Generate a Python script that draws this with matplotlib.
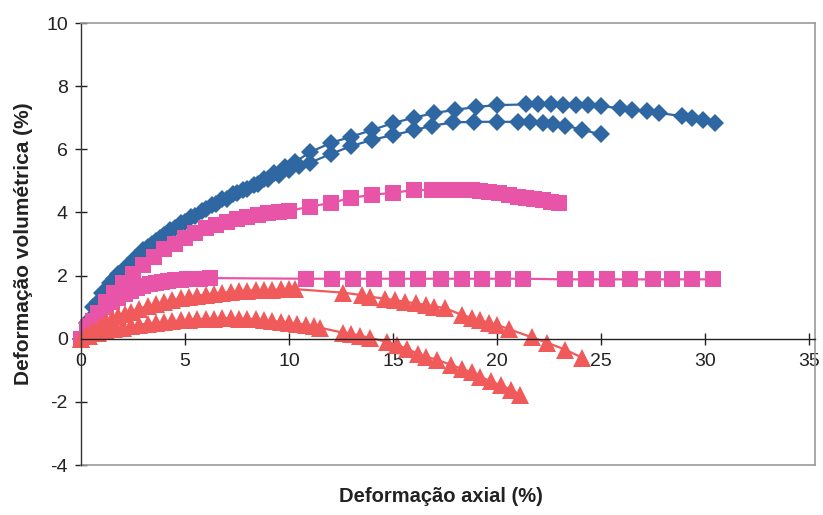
import matplotlib
matplotlib.use("Agg")
import matplotlib.pyplot as plt
from matplotlib.lines import Line2D

plt.rcParams['font.family'] = ['Liberation Sans', 'DejaVu Sans']
plt.rcParams['axes.unicode_minus'] = False

# Dilatancy curves: axial strain (%) vs volumetric strain (%)
blue_a_x = [0, 0.3, 0.6, 1.0, 1.4, 1.8, 2.2, 2.6, 3.0, 3.4, 3.8, 4.3, 4.8, 5.3, 5.8, 6.3, 6.8,
            7.3, 7.8, 8.3, 8.8, 9.3, 9.8, 10.3, 11.0, 12.0, 13.0, 14.0, 15.0, 16.0, 17.0, 18.0,
            19.0, 20.0, 21.4, 22.0, 22.6, 23.2, 23.8, 24.4, 25.0, 25.9, 26.5, 27.2, 27.8, 28.9,
            29.4, 29.9, 30.5]
blue_a_y = [0, 0.5, 1.0, 1.45, 1.75, 2.05, 2.3, 2.55, 2.8, 3.0, 3.2, 3.45, 3.65, 3.85, 4.05, 4.25,
            4.42, 4.58, 4.72, 4.88, 5.05, 5.25, 5.45, 5.6, 5.9, 6.2, 6.4, 6.61, 6.83, 7.0, 7.15,
            7.25, 7.34, 7.4, 7.42, 7.42, 7.42, 7.41, 7.4, 7.39, 7.37, 7.3, 7.25, 7.2, 7.15, 7.05,
            7.0, 6.93, 6.83]

blue_b_x = [0, 0.4, 0.8, 1.2, 1.6, 2.0, 2.4, 2.8, 3.2, 3.6, 4.0, 4.5, 5.0, 5.5, 6.0, 6.5, 7.0,
            7.5, 8.0, 8.5, 9.0, 9.5, 10.0, 10.5, 11.0, 12.0, 13.0, 14.0, 15.0, 16.0, 16.9, 17.9,
            18.9, 20.0, 21.0, 21.6, 22.2, 22.7, 23.3, 24.1, 25.0]
blue_b_y = [0, 0.6, 1.15, 1.55, 1.9, 2.15, 2.4, 2.65, 2.9, 3.1, 3.3, 3.5, 3.7, 3.9, 4.1, 4.28,
            4.44, 4.6, 4.75, 4.9, 5.05, 5.2, 5.35, 5.47, 5.57, 5.85, 6.1, 6.3, 6.45, 6.6, 6.75,
            6.85, 6.87, 6.87, 6.87, 6.86, 6.84, 6.8, 6.75, 6.62, 6.47]

pink_a_x = [0, 0.4, 0.8, 1.2, 1.6, 2.0, 2.5, 3.0, 3.5, 4.0, 4.5, 5.0, 5.5, 6.0, 6.5, 7.0, 7.5,
            8.0, 8.5, 9.0, 9.5, 10.0, 11.0, 12.0, 13.0, 14.0, 15.0, 16.0, 16.9, 17.6, 18.0,
            18.4, 18.8, 19.2, 19.6, 20.1, 20.6, 21.0, 21.4, 21.8, 22.2, 22.6, 23.0]
pink_a_y = [0, 0.4, 0.8, 1.15, 1.45, 1.75, 2.05, 2.35, 2.6, 2.85, 3.0, 3.2, 3.35, 3.5, 3.6, 3.7,
            3.78, 3.85, 3.92, 3.97, 4.0, 4.05, 4.18, 4.3, 4.46, 4.56, 4.62, 4.71, 4.71, 4.72,
            4.72, 4.71, 4.7, 4.68, 4.65, 4.62, 4.55, 4.5, 4.47, 4.43, 4.38, 4.33, 4.3]

pink_b_x = [0, 0.3, 0.6, 0.9, 1.2, 1.5, 1.8, 2.1, 2.4, 2.7, 3.0, 3.3, 3.6, 3.9, 4.2, 4.5, 4.8,
            5.1, 5.4, 5.7, 6.2, 10.8, 12.05, 13.1, 14.1, 15.2, 16.2, 17.3, 18.3, 19.3, 20.3,
            21.25, 23.3, 24.3, 25.3, 26.4, 27.5, 28.4, 29.4, 30.4]
pink_b_y = [0, 0.3, 0.55, 0.8, 1.0, 1.15, 1.3, 1.42, 1.52, 1.6, 1.67, 1.72, 1.77, 1.8, 1.83,
            1.85, 1.87, 1.88, 1.89, 1.9, 1.92, 1.9, 1.9, 1.9, 1.9, 1.9, 1.9, 1.9, 1.9, 1.9, 1.9,
            1.9, 1.88, 1.88, 1.88, 1.88, 1.88, 1.88, 1.88, 1.88]

red_a_x = [0, 0.3, 0.6, 0.9, 1.2, 1.5, 1.8, 2.1, 2.4, 2.8, 3.2, 3.6, 4.0, 4.4, 4.8, 5.2, 5.6,
           6.0, 6.4, 6.8, 7.2, 7.6, 8.0, 8.4, 8.8, 9.2, 9.6, 10.0, 10.3, 12.6, 13.5, 13.9,
           14.6, 15.1, 15.6, 16.1, 16.6, 17.0, 17.5, 18.3, 18.8, 19.2, 19.6, 20.0, 20.6, 21.7,
           22.4, 23.3, 24.1]
red_a_y = [0, 0.15, 0.29, 0.41, 0.52, 0.62, 0.71, 0.79, 0.86, 0.95, 1.03, 1.1, 1.17, 1.23,
           1.28, 1.32, 1.36, 1.4, 1.43, 1.46, 1.48, 1.5, 1.52, 1.53, 1.54, 1.55, 1.56, 1.57,
           1.57, 1.46, 1.38, 1.33, 1.27, 1.22, 1.17, 1.12, 1.07, 1.02, 0.97, 0.76, 0.66, 0.58,
           0.51, 0.44, 0.3, 0.04, -0.12, -0.35, -0.6]

red_b_x = [0, 0.4, 0.8, 1.2, 1.6, 2.0, 2.4, 2.8, 3.2, 3.6, 4.0, 4.4, 4.8, 5.2, 5.6, 6.0, 6.4,
           6.8, 7.2, 7.6, 8.0, 8.4, 8.8, 9.2, 9.6, 10.0, 10.4, 10.8, 11.2, 11.5, 12.6, 13.0,
           13.4, 13.9, 14.7, 15.2, 15.7, 16.2, 16.6, 17.1, 17.8, 18.3, 18.8, 19.2, 19.7, 20.2,
           20.7, 21.1]
red_b_y = [0, 0.09, 0.17, 0.24, 0.3, 0.35, 0.4, 0.44, 0.48, 0.51, 0.54, 0.56, 0.58, 0.6, 0.62,
           0.63, 0.64, 0.65, 0.65, 0.64, 0.63, 0.61, 0.59, 0.56, 0.54, 0.51, 0.48, 0.44, 0.39,
           0.35, 0.19, 0.15, 0.1, 0.03, -0.1, -0.2, -0.33, -0.47, -0.57, -0.66, -0.83, -0.95,
           -1.07, -1.2, -1.35, -1.48, -1.62, -1.77]

x_ticks = [0, 5, 10, 15, 20, 25, 30, 35]
y_ticks = [-4, -2, 0, 2, 4, 6, 8, 10]

BLUE = '#2F67A3'
PINK = '#E855A8'
RED = '#F05A5A'

fig = plt.figure(figsize=(8.23, 5.15), dpi=100)
ax = fig.add_axes([81 / 823, 50 / 515, 734 / 823, 442 / 515])

series = [
    (blue_a_x, blue_a_y, BLUE, 'D', 9.0),
    (blue_b_x, blue_b_y, BLUE, 'D', 9.0),
    (pink_a_x, pink_a_y, PINK, 's', 11.0),
    (pink_b_x, pink_b_y, PINK, 's', 11.0),
    (red_a_x, red_a_y, RED, '^', 12.5),
    (red_b_x, red_b_y, RED, '^', 12.5),
]
for xs, ys, col, mk, ms in series:
    ax.plot(xs, ys, color=col, lw=1.6, marker=mk, markersize=ms,
            markeredgewidth=0, markerfacecolor=col, clip_on=False)

ax.set_xlim(0, 35.3)
ax.set_ylim(-4, 10)
ax.set_xticks(x_ticks)
ax.set_yticks(y_ticks)

# Y axis at x=0, X axis crossing at y=0; plot area framed in grey
ax.spines['bottom'].set_position(('data', 0))
ax.spines['left'].set_color('#333333')
ax.spines['bottom'].set_color('#222222')
ax.spines['left'].set_linewidth(1.0)
ax.spines['bottom'].set_linewidth(1.0)
for side in ('top', 'right'):
    ax.spines[side].set_color('#9a9a9a')
    ax.spines[side].set_linewidth(1.2)
ax.add_line(Line2D([0, 1], [0, 0], transform=ax.transAxes, color='#9a9a9a',
                   lw=1.2, clip_on=False))

ax.tick_params(axis='x', direction='inout', length=9, width=1, labelsize=14,
               pad=6, colors='#222222')
ax.tick_params(axis='y', direction='inout', length=9, width=1, labelsize=14,
               pad=5, colors='#222222')

ax.set_xlabel('Deformação axial (%)', fontsize=14.5, fontweight='bold', color='#222222')
ax.xaxis.set_label_coords(0.49, -0.05)
ax.set_ylabel('Deformação volumétrica (%)', fontsize=15, fontweight='bold', color='#222222')
ax.yaxis.set_label_coords(-0.066, 0.5)

fig.savefig('out.png', dpi=100)
